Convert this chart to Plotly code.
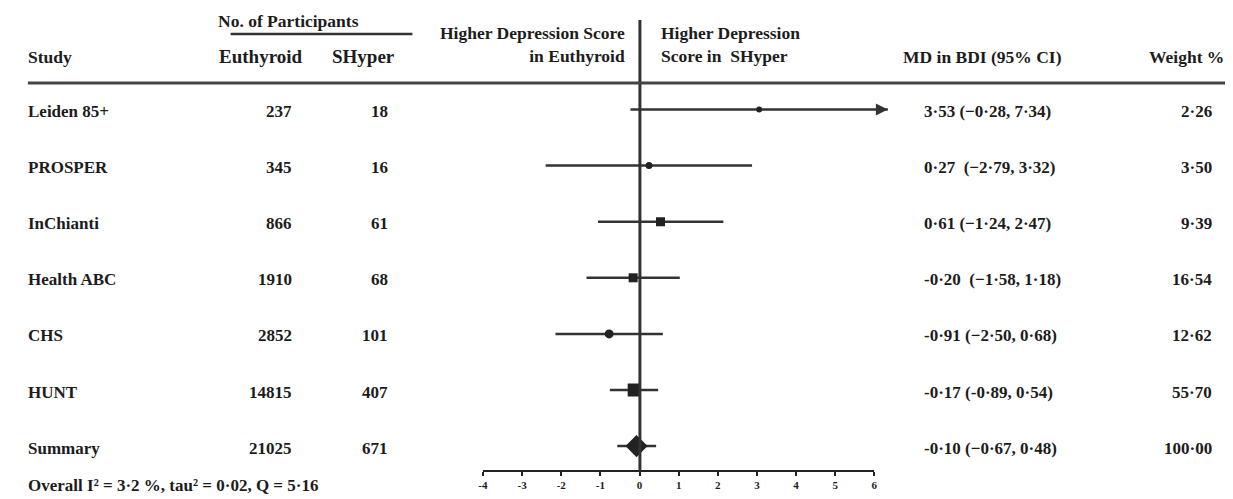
import plotly.graph_objects as go

# ---------------- data ----------------
studies = ["Leiden 85+", "PROSPER", "InChianti", "Health ABC", "CHS", "HUNT", "Summary"]
n_euthyroid = ["237", "345", "866", "1910", "2852", "14815", "21025"]
n_shyper = ["18", "16", "61", "68", "101", "407", "671"]
md = [3.53, 0.27, 0.61, -0.20, -0.91, -0.17, -0.10]
ci_low = [-0.28, -2.79, -1.24, -1.58, -2.50, -0.89, -0.67]
ci_high = [7.34, 3.32, 2.47, 1.18, 0.68, 0.54, 0.48]
md_text = ["3·53 (−0·28, 7·34)", "0·27\u00a0 (−2·79, 3·32)", "0·61 (−1·24, 2·47)",
           "-0·20\u00a0 (−1·58, 1·18)", "-0·91 (−2·50, 0·68)", "-0·17 (-0·89, 0·54)",
           "-0·10 (−0·67, 0·48)"]
weights = ["2·26", "3·50", "9·39", "16·54", "12·62", "55·70", "100·00"]
axis_ticks = [-4, -3, -2, -1, 0, 1, 2, 3, 4, 5, 6]
overall_text = "Overall I² = 3·2 %, tau² = 0·02, Q = 5·16"

# ---------------- styles ----------------
W, H = 1233, 499
OFF = 8  # page body margin
FONT = "Liberation Serif"
INK = "#1c1c1c"
LINE = "#333333"
marker_sizes = [6, 7, 9, 9, 9, 13]
marker_symbols = ["circle", "circle", "square", "square", "circle", "square"]


def px_x(p):
    return (p - OFF) / W


def px_y(p):
    return 1 - (p - OFF) / H


row0, row_step = 109.5 - OFF, 56.1
zero_px, unit_px = 639 - OFF, 34.0
data_left_px, data_right_px = 400 - OFF, 1000 - OFF
tick_left_px, tick_right_px = 481, 875

fig = go.Figure()

n_studies = len(studies) - 1
for i in range(len(studies)):
    is_summary = i == n_studies
    fig.add_trace(go.Scatter(
        x=[ci_low[i], ci_high[i]], y=[i, i], mode="lines",
        line=dict(color=LINE, width=2.5), hoverinfo="skip", showlegend=False))
    fig.add_trace(go.Scatter(
        x=[md[i]], y=[i], mode="markers",
        marker=dict(symbol="diamond" if is_summary else marker_symbols[i],
                    size=17 if is_summary else marker_sizes[i],
                    color="#222222", line=dict(width=0)),
        hoverinfo="skip", showlegend=False))
    if ci_high[i] > axis_ticks[-1]:
        fig.add_annotation(x=ci_high[i], y=i, ax=ci_high[i] - 0.4, ay=i,
                           xref="x", yref="y", axref="x", ayref="y",
                           text="", showarrow=True, arrowhead=2, arrowsize=1.2,
                           arrowwidth=2, arrowcolor=LINE, standoff=0)

# invisible trace to carry the tick axis
fig.add_trace(go.Scatter(x=axis_ticks, y=[0] * len(axis_ticks), xaxis="x2", yaxis="y",
                         mode="markers", marker=dict(opacity=0), hoverinfo="skip",
                         showlegend=False))

fig.update_layout(
    width=W, height=H,
    margin=dict(l=0, r=0, t=0, b=0),
    paper_bgcolor="white", plot_bgcolor="rgba(0,0,0,0)",
    showlegend=False,
    xaxis=dict(domain=[data_left_px / W, data_right_px / W],
               range=[(data_left_px - zero_px) / unit_px, (data_right_px - zero_px) / unit_px],
               visible=False, fixedrange=True),
    xaxis2=dict(domain=[px_x(tick_left_px), px_x(tick_right_px)],
                range=[axis_ticks[0], axis_ticks[-1]], anchor="free",
                position=px_y(471), showline=True, linecolor="#222222", linewidth=2,
                ticks="outside", ticklen=4, tickwidth=1.5, tickcolor="#222222",
                tickvals=axis_ticks, ticktext=[str(t) for t in axis_ticks],
                tickfont=dict(family=FONT, size=11, color=INK, weight="bold"),
                showgrid=False, zeroline=False, fixedrange=True),
    yaxis=dict(domain=[0, 1], range=[(H - row0) / row_step, -row0 / row_step],
               visible=False, fixedrange=True),
)

# reference line at zero and header rules
fig.add_shape(type="line", xref="x", yref="paper", x0=0, x1=0,
              y0=px_y(20), y1=px_y(471), line=dict(color=LINE, width=3))
fig.add_shape(type="line", xref="paper", yref="paper", x0=px_x(23), x1=px_x(1228),
              y0=px_y(83), y1=px_y(83), line=dict(color="#444444", width=3))
fig.add_shape(type="line", xref="paper", yref="paper", x0=px_x(227), x1=px_x(410),
              y0=px_y(34), y1=px_y(34), line=dict(color="#333333", width=2.5))

body = dict(family=FONT, size=17, color=INK, weight="bold")
head = dict(family=FONT, size=17.5, color=INK, weight="bold")
head_wide = dict(family=FONT, size=19, color=INK, weight="bold")


def txt(x, y, s, anchor, font, yref="y"):
    fig.add_annotation(x=px_x(x), y=y, xref="paper", yref=yref, text=s,
                       showarrow=False, xanchor=anchor, yanchor="middle", font=font,
                       align=anchor if anchor != "center" else "center",
                       borderpad=0, borderwidth=0,
                       yshift=-2 if yref == "y" else 0)


for i in range(len(studies)):
    txt(23, i, studies[i], "left", body)
    txt(289, i, n_euthyroid[i], "right", body)
    txt(385, i, n_shyper[i], "right", body)
    txt(925, i, md_text[i], "left", body)
    txt(1215, i, weights[i], "right", body)

txt(23, px_y(485), overall_text, "left", body, yref="paper")

txt(285, px_y(21), "No. of Participants", "center", head, yref="paper")
txt(23, px_y(57), "Study", "left", head, yref="paper")
txt(258, px_y(57), "Euthyroid", "center", head_wide, yref="paper")
txt(361, px_y(57), "SHyper", "center", head_wide, yref="paper")
txt(624, px_y(45), "Higher Depression Score<br>in Euthyroid", "right", head, yref="paper")
txt(660, px_y(45), "Higher Depression<br>Score in  SHyper", "left", head, yref="paper")
txt(984, px_y(57), "MD in BDI (95% CI)", "center", head, yref="paper")
txt(1227, px_y(57), "Weight %", "right", head, yref="paper")

fig.write_html("out.html")
